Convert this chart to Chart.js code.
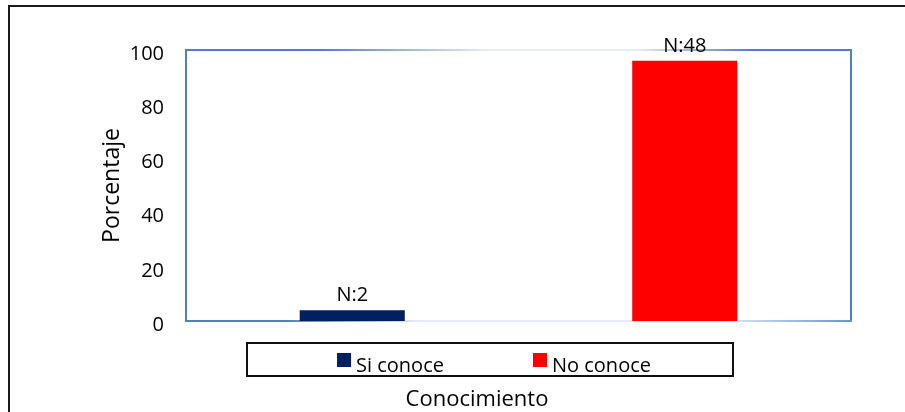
<!DOCTYPE html>
<html><head><meta charset="utf-8">
<script src="https://cdn.jsdelivr.net/npm/chart.js@4.4.1/dist/chart.umd.min.js"></script>
<style>html,body{margin:0;padding:0;background:#fff;overflow:hidden;width:905px;height:412px}#wrap{position:relative;width:905px;height:412px;overflow:hidden}canvas{display:block}</style>
</head><body><div id="wrap"><canvas id="c" width="905" height="412" style="width:905px;height:412px"></canvas></div>
<script>
const categories = ['Si conoce', 'No conoce'];
const percentages = [4, 96];
const counts = [2, 48];
const yTicks = [0, 20, 40, 60, 80, 100];
const barColors = ['#002060', '#ff0000'];
const yTitle = 'Porcentaje';
const xTitle = 'Conocimiento';

const FONT = "'Open Sans', 'DejaVu Sans', sans-serif";

const datasets = categories.map((cat, i) => ({
  label: cat,
  data: categories.map((_, j) => (j === i ? percentages[i] : null)),
  backgroundColor: barColors[i],
  borderWidth: 0,
  barPercentage: 0.316,
  categoryPercentage: 1,
  grouped: false
}));

const decor = {
  id: 'decor',
  beforeDraw(chart) {
    const ctx = chart.ctx;
    ctx.save();
    ctx.fillStyle = '#1a1a1a';
    ctx.fillRect(8, 5, 2, chart.height - 5);
    ctx.fillRect(8, 5, chart.width - 8, 2);
    ctx.restore();
  },
  beforeDatasetsDraw(chart) {
    const {ctx, chartArea: a} = chart;
    const blue = '#4f81bd', light = '#e4ebf5';
    ctx.save();
    ctx.lineWidth = 2;
    ctx.strokeStyle = blue;
    ctx.beginPath();
    ctx.moveTo(a.left, a.top); ctx.lineTo(a.left, a.bottom);
    ctx.moveTo(a.right, a.top); ctx.lineTo(a.right, a.bottom);
    ctx.stroke();
    let g = ctx.createLinearGradient(a.left, 0, a.right, 0);
    g.addColorStop(0, blue); g.addColorStop(0.2, blue);
    g.addColorStop(0.45, light); g.addColorStop(0.68, light);
    g.addColorStop(0.85, blue); g.addColorStop(1, blue);
    ctx.strokeStyle = g;
    ctx.beginPath(); ctx.moveTo(a.left - 1, a.top); ctx.lineTo(a.right + 1, a.top); ctx.stroke();
    g = ctx.createLinearGradient(a.left, 0, a.right, 0);
    g.addColorStop(0, blue); g.addColorStop(0.15, blue);
    g.addColorStop(0.35, light); g.addColorStop(0.8, light);
    g.addColorStop(1, '#6b95cb');
    ctx.strokeStyle = g;
    ctx.beginPath(); ctx.moveTo(a.left - 1, a.bottom); ctx.lineTo(a.right + 1, a.bottom); ctx.stroke();
    ctx.restore();
  },
  afterDatasetsDraw(chart) {
    const ctx = chart.ctx;
    ctx.save();
    ctx.font = '20px ' + FONT;
    ctx.fillStyle = '#000';
    ctx.textAlign = 'center';
    ctx.textBaseline = 'alphabetic';
    chart.data.datasets.forEach((ds, i) => {
      const meta = chart.getDatasetMeta(i);
      meta.data.forEach((bar, j) => {
        if (ds.data[j] == null) return;
        ctx.fillText('N:' + counts[i], bar.x, bar.y - 9);
      });
    });
    ctx.restore();
  },
  afterDraw(chart) {
    const ctx = chart.ctx;
    ctx.save();
    const bx = 247, by = 343, bw = 486, bh = 33;
    ctx.strokeStyle = '#111';
    ctx.lineWidth = 2;
    ctx.strokeRect(bx, by, bw, bh);
    ctx.font = '20px ' + FONT;
    ctx.textBaseline = 'alphabetic';
    ctx.textAlign = 'left';
    const sq = 14, gapTxt = 5, gapItem = 89;
    const items = chart.data.datasets.map(ds => ({label: ds.label, color: ds.backgroundColor, w: ctx.measureText(ds.label).width}));
    let total = 0;
    items.forEach((it, k) => { total += sq + gapTxt + it.w + (k ? gapItem : 0); });
    let x = bx + bw / 2 - total / 2 + 4;
    items.forEach(it => {
      ctx.fillStyle = it.color;
      ctx.fillRect(x, 353, sq, sq);
      ctx.fillStyle = '#000';
      ctx.fillText(it.label, x + sq + gapTxt, 372);
      x += sq + gapTxt + it.w + gapItem;
    });
    ctx.font = '22px ' + FONT;
    ctx.textAlign = 'center';
    ctx.fillText(xTitle, 477, 406);
    ctx.restore();
  }
};

new Chart(document.getElementById('c'), {
  type: 'bar',
  data: { labels: categories, datasets },
  plugins: [decor],
  options: {
    responsive: false,
    animation: false,
    events: [],
    layout: { padding: { left: 90, right: 54, top: 50, bottom: 91 } },
    plugins: { legend: { display: false }, tooltip: { enabled: false } },
    scales: {
      x: { display: false },
      y: {
        min: yTicks[0],
        max: yTicks[yTicks.length - 1],
        afterBuildTicks: (scale) => { scale.ticks = yTicks.map(v => ({ value: v })); },
        afterFit: (scale) => { scale.width = 96; },
        grid: { display: false, drawTicks: false },
        border: { display: false },
        ticks: { font: { size: 20, family: FONT }, color: '#000', padding: 22, labelOffset: 4 },
        title: { display: true, text: yTitle, color: '#000', font: { size: 23, family: FONT }, padding: { top: 9, bottom: 4 } }
      }
    }
  }
});
</script></body></html>
